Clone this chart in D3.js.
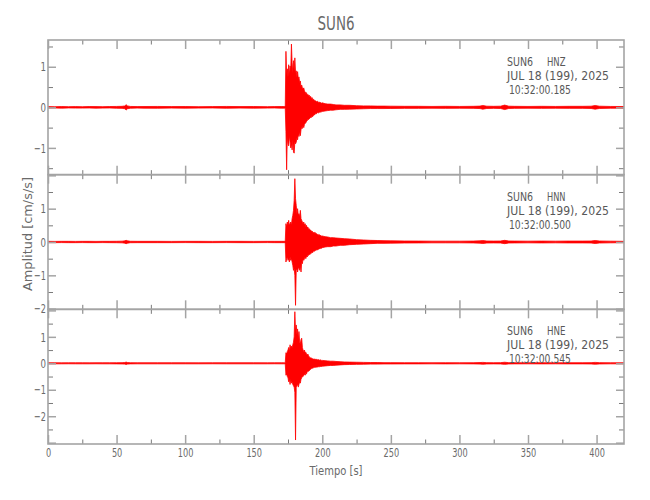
<!DOCTYPE html>
<html><head><meta charset="utf-8">
<script src="https://cdn.jsdelivr.net/npm/d3@7"></script>
<style>
body{margin:0;background:#fff;}
text{font-family:"DejaVu Sans Condensed","Liberation Sans Narrow","Liberation Sans",sans-serif;}
</style></head>
<body><svg id="c" width="650" height="500"></svg>
<script>
// ---- data ----
const title = "SUN6";
const channels = ["HNZ", "HNN", "HNE"];
const startTimes = ["10:32:00.185", "10:32:00.500", "10:32:00.545"];
const dateLabel = "JUL 18 (199), 2025";
const xTicks = [0, 50, 100, 150, 200, 250, 300, 350, 400];
const yDomains = [[-1.66, 1.66], [-2.02, 2.02], [-3.05, 2.04]];
const yTickLabels = [[-1, 0, 1], [-2, -1, 0, 1], [-2, -1, 0, 1]];

const times = [0,5,10,15,20,25,30,35,40,45,50,54,56,57,58,60,65,70,80,90,100,110,120,130,140,150,160,165,170,172,
 172.5,173,173.5,174,174.5,175,175.5,176,176.5,177,177.5,178,178.5,179,179.5,180,180.5,181,181.5,182,182.5,183,183.5,184,184.5,185,185.5,186,186.5,187,187.5,188,188.5,189,189.5,190,190.5,191,191.5,192,192.5,193,193.5,194,194.5,195,195.5,196,196.5,197,197.5,198,198.5,199,199.5,200,
 202,204,206,208,210,213,216,220,225,230,235,240,245,
 250,260,270,280,290,300,310,315,317,320,325,330,333,336,340,350,360,370,380,390,396,399,402,410,420];

const hnzHi = [0.018,0.015,0.02,0.016,0.018,0.015,0.02,0.018,0.016,0.02,0.022,0.025,0.035,0.065,0.035,0.022,0.018,0.02,0.022,0.018,0.02,0.016,0.018,0.022,0.018,0.02,0.016,0.018,0.02,0.02,
 0.02,0.03,1.38,0.8,0.95,0.75,1.05,0.8,1.02,0.9,1.56,1.1,0.85,1.15,0.9,1.22,0.85,0.9,0.75,0.88,0.7,0.75,0.6,0.65,0.5,0.55,0.48,0.45,0.48,0.4,0.38,0.35,0.36,0.3,0.32,0.28,0.3,0.25,0.27,0.22,0.24,0.2,0.2,0.18,0.17,0.16,0.15,0.14,0.15,0.13,0.12,0.13,0.11,0.12,0.1,0.11,
 0.09,0.08,0.08,0.07,0.06,0.06,0.05,0.05,0.04,0.035,0.035,0.03,0.03,
 0.028,0.025,0.025,0.022,0.025,0.022,0.025,0.03,0.045,0.028,0.025,0.028,0.055,0.028,0.025,0.022,0.025,0.022,0.025,0.025,0.028,0.045,0.028,0.022,0.02];
const hnzLo = [-0.018,-0.016,-0.02,-0.015,-0.018,-0.018,-0.016,-0.02,-0.018,-0.016,-0.022,-0.025,-0.035,-0.065,-0.035,-0.022,-0.018,-0.02,-0.022,-0.018,-0.02,-0.018,-0.016,-0.022,-0.018,-0.02,-0.018,-0.016,-0.02,-0.02,
 -0.02,-0.03,-0.6,-1.54,-0.7,-0.9,-0.95,-0.7,-0.85,-1.0,-0.9,-1.05,-0.8,-1.1,-1.13,-0.85,-0.9,-0.86,-0.75,-0.8,-0.65,-0.72,-0.6,-0.7,-0.55,-0.5,-0.52,-0.45,-0.5,-0.42,-0.4,-0.38,-0.35,-0.33,-0.3,-0.3,-0.28,-0.27,-0.25,-0.25,-0.22,-0.23,-0.2,-0.19,-0.18,-0.16,-0.16,-0.15,-0.13,-0.14,-0.13,-0.12,-0.12,-0.11,-0.11,-0.1,
 -0.09,-0.08,-0.07,-0.07,-0.06,-0.05,-0.05,-0.045,-0.04,-0.035,-0.03,-0.03,-0.03,
 -0.028,-0.025,-0.025,-0.022,-0.025,-0.022,-0.025,-0.03,-0.045,-0.028,-0.025,-0.028,-0.055,-0.028,-0.025,-0.022,-0.025,-0.022,-0.025,-0.025,-0.028,-0.045,-0.028,-0.022,-0.02];

const hnnHi = [0.02,0.018,0.02,0.02,0.018,0.02,0.02,0.018,0.02,0.02,0.022,0.025,0.035,0.05,0.035,0.022,0.02,0.02,0.02,0.018,0.02,0.02,0.018,0.02,0.02,0.018,0.02,0.02,0.02,0.02,
 0.02,0.03,0.55,0.45,0.6,0.5,0.65,0.5,0.55,0.6,0.5,0.7,0.8,0.95,1.25,1.9,1.3,1.1,0.85,1.0,0.8,0.85,0.75,0.95,0.7,0.65,0.6,0.55,0.6,0.5,0.55,0.45,0.5,0.42,0.45,0.38,0.4,0.35,0.36,0.32,0.33,0.3,0.28,0.3,0.26,0.28,0.24,0.25,0.22,0.23,0.2,0.22,0.19,0.2,0.17,0.18,
 0.16,0.15,0.13,0.13,0.12,0.11,0.1,0.09,0.07,0.06,0.05,0.045,0.04,
 0.035,0.03,0.028,0.025,0.025,0.025,0.028,0.035,0.045,0.03,0.028,0.03,0.05,0.03,0.028,0.025,0.028,0.025,0.028,0.028,0.03,0.045,0.03,0.025,0.02];
const hnnLo = [-0.02,-0.02,-0.018,-0.02,-0.02,-0.018,-0.02,-0.02,-0.018,-0.02,-0.022,-0.025,-0.035,-0.05,-0.035,-0.022,-0.02,-0.02,-0.02,-0.02,-0.018,-0.02,-0.02,-0.018,-0.02,-0.02,-0.018,-0.02,-0.02,-0.02,
 -0.02,-0.03,-0.6,-0.5,-0.45,-0.55,-0.5,-0.6,-0.45,-0.55,-0.5,-0.6,-0.7,-0.85,-0.8,-1.0,-1.9,-0.85,-0.8,-0.9,-0.75,-0.8,-0.85,-0.7,-0.9,-0.6,-0.65,-0.5,-0.55,-0.5,-0.45,-0.5,-0.42,-0.45,-0.4,-0.4,-0.36,-0.38,-0.33,-0.34,-0.3,-0.32,-0.28,-0.26,-0.28,-0.25,-0.25,-0.23,-0.24,-0.21,-0.22,-0.2,-0.2,-0.18,-0.19,-0.17,
 -0.15,-0.14,-0.14,-0.12,-0.12,-0.1,-0.1,-0.08,-0.07,-0.06,-0.05,-0.04,-0.04,
 -0.035,-0.03,-0.028,-0.025,-0.025,-0.025,-0.028,-0.035,-0.045,-0.03,-0.028,-0.03,-0.05,-0.03,-0.028,-0.025,-0.028,-0.025,-0.028,-0.028,-0.03,-0.045,-0.03,-0.025,-0.02];

const hneHi = [0.02,0.02,0.018,0.02,0.02,0.02,0.018,0.02,0.02,0.02,0.022,0.025,0.03,0.045,0.03,0.022,0.02,0.02,0.02,0.02,0.02,0.018,0.02,0.02,0.02,0.02,0.018,0.02,0.02,0.02,
 0.02,0.03,0.4,0.35,0.45,0.5,0.6,0.45,0.7,0.55,0.65,0.6,0.7,0.8,1.0,1.95,1.2,1.45,1.1,1.3,0.9,1.2,0.8,0.75,0.9,0.95,0.6,0.5,0.45,0.5,0.4,0.42,0.35,0.3,0.35,0.28,0.25,0.22,0.2,0.2,0.18,0.17,0.16,0.15,0.16,0.15,0.14,0.15,0.13,0.14,0.13,0.12,0.13,0.12,0.11,0.11,
 0.1,0.09,0.08,0.08,0.07,0.06,0.05,0.045,0.04,0.035,0.03,0.03,0.025,
 0.025,0.022,0.022,0.02,0.022,0.02,0.022,0.028,0.035,0.025,0.022,0.025,0.04,0.025,0.022,0.02,0.022,0.02,0.022,0.022,0.025,0.035,0.025,0.02,0.02];
const hneLo = [-0.02,-0.02,-0.02,-0.018,-0.02,-0.02,-0.02,-0.018,-0.02,-0.02,-0.022,-0.025,-0.03,-0.045,-0.03,-0.022,-0.02,-0.02,-0.02,-0.02,-0.02,-0.02,-0.018,-0.02,-0.02,-0.02,-0.02,-0.018,-0.02,-0.02,
 -0.02,-0.03,-0.45,-0.4,-0.5,-0.55,-0.7,-0.6,-0.8,-0.6,-0.75,-0.7,-0.8,-0.85,-0.9,-1.1,-2.9,-0.9,-0.85,-0.8,-0.9,-0.8,-0.7,-0.75,-0.6,-0.55,-0.5,-0.5,-0.45,-0.4,-0.45,-0.38,-0.4,-0.32,-0.3,-0.3,-0.28,-0.25,-0.22,-0.2,-0.2,-0.18,-0.17,-0.16,-0.15,-0.15,-0.15,-0.14,-0.14,-0.13,-0.13,-0.13,-0.12,-0.12,-0.12,-0.11,
 -0.1,-0.09,-0.08,-0.08,-0.07,-0.06,-0.05,-0.045,-0.04,-0.035,-0.03,-0.03,-0.025,
 -0.025,-0.022,-0.022,-0.02,-0.022,-0.02,-0.022,-0.028,-0.035,-0.025,-0.022,-0.025,-0.04,-0.025,-0.022,-0.02,-0.022,-0.02,-0.022,-0.022,-0.025,-0.035,-0.025,-0.02,-0.02];

const series = [[hnzHi, hnzLo], [hnnHi, hnnLo], [hneHi, hneLo]];

// ---- layout ----
const L = 48, R = 624, T = 40, B = 444;
const ph = (B - T) / 3;
const svg = d3.select("#c");
const frameCol = "#a4a4a4", textCol = "#6a6a6a", infoCol = "#585858";
const x = d3.scaleLinear().domain([0, 420]).range([L, R]);
const fitText = (sel, perChar) => sel.each(function () {
  const n = this.textContent.length;
  if (n) d3.select(this).attr("textLength", n * perChar).attr("lengthAdjust", "spacingAndGlyphs");
});

svg.append("text").attr("x", (L + R) / 2).attr("y", 30).attr("text-anchor", "middle")
  .attr("font-size", 19).attr("fill", textCol).attr("textLength", 37).attr("lengthAdjust", "spacingAndGlyphs").text(title);

const defs = svg.append("defs");

series.forEach(([hi, lo], i) => {
  const top = T + i * ph, bot = top + ph;
  const y = d3.scaleLinear().domain(yDomains[i]).range([bot, top]);
  const g = svg.append("g");
  defs.append("clipPath").attr("id", "cp" + i).append("rect")
    .attr("x", L).attr("y", top).attr("width", R - L).attr("height", ph);

  const area = d3.area().x((d, k) => x(times[k])).y0((d, k) => y(lo[k])).y1((d, k) => y(hi[k]));
  g.append("path").datum(times).attr("clip-path", "url(#cp" + i + ")")
    .attr("d", area).attr("fill", "#ff0000").attr("stroke", "#ff0000").attr("stroke-width", 0.8)
    .attr("stroke-linejoin", "miter");

  const [d0, d1] = yDomains[i];
  const minorY = d3.range(Math.ceil(d0 * 2) / 2, d1 + 1e-9, 0.5).filter(v => Math.abs(v - Math.round(v)) > 0.01);
  const majorY = d3.range(Math.ceil(d0), d1 + 1e-9, 1);
  const minorX = d3.range(25, 420, 50);

  const style = (sel, col, w) => { sel.select(".domain").remove(); sel.selectAll("line").attr("stroke", col).attr("stroke-width", w); };

  style(g.append("g").attr("transform", `translate(${L},0)`).call(d3.axisLeft(y).tickValues(minorY).tickSize(-5).tickFormat("")), "#7a7a7a", 1);
  style(g.append("g").attr("transform", `translate(${R},0)`).call(d3.axisRight(y).tickValues(minorY).tickSize(-5).tickFormat("")), "#7a7a7a", 1);
  style(g.append("g").attr("transform", `translate(${R},0)`).call(d3.axisRight(y).tickValues(majorY).tickSize(-8).tickFormat("")), frameCol, 1.5);
  const la = g.append("g").attr("transform", `translate(${L},0)`)
    .call(d3.axisLeft(y).tickValues(majorY).tickSize(-8).tickFormat(v => yTickLabels[i].includes(v) ? (v < 0 ? "\u2212" + (-v) : String(v)) : ""));
  style(la, frameCol, 1.5);
  la.selectAll("text").attr("x", -2).attr("font-size", 13).attr("fill", textCol).style("font-family", null)
    .each(function () { const s = this.textContent; if (s) d3.select(this).attr("textLength", s.length === 1 ? 5.5 : 12).attr("lengthAdjust", "spacingAndGlyphs"); });

  style(g.append("g").attr("transform", `translate(0,${top})`).call(d3.axisTop(x).tickValues(minorX).tickSize(-4.5).tickFormat("")), "#7a7a7a", 1);
  style(g.append("g").attr("transform", `translate(0,${top})`).call(d3.axisTop(x).tickValues(xTicks).tickSize(-9).tickFormat("")), frameCol, 1.5);
  style(g.append("g").attr("transform", `translate(0,${bot})`).call(d3.axisBottom(x).tickValues(minorX).tickSize(-4.5).tickFormat("")), "#7a7a7a", 1);
  const ba = g.append("g").attr("transform", `translate(0,${bot})`)
    .call(d3.axisBottom(x).tickValues(xTicks).tickSize(-9).tickFormat(i === 2 ? d3.format("d") : ""));
  style(ba, frameCol, 1.5);
  ba.selectAll("text").attr("y", 4).attr("font-size", 13).attr("fill", textCol).style("font-family", null).call(fitText, 5.2);

  g.append("rect").attr("x", L).attr("y", top).attr("width", R - L).attr("height", ph)
    .attr("fill", "none").attr("stroke", frameCol).attr("stroke-width", 1.6);

  const info = g.append("g").attr("fill", infoCol).attr("font-size", 13);
  info.append("text").attr("x", 507).attr("y", top + 26).attr("textLength", 26).attr("lengthAdjust", "spacingAndGlyphs").text(title);
  info.append("text").attr("x", 547).attr("y", top + 26).attr("textLength", 18.5).attr("lengthAdjust", "spacingAndGlyphs").text(channels[i]);
  info.append("text").attr("x", 507).attr("y", top + 40).attr("textLength", 102).attr("lengthAdjust", "spacingAndGlyphs").text(dateLabel);
  info.append("text").attr("x", 509).attr("y", top + 54).attr("textLength", 62).attr("lengthAdjust", "spacingAndGlyphs").text(startTimes[i]);
});

svg.append("text").attr("x", (L + R) / 2).attr("y", 475).attr("text-anchor", "middle")
  .attr("font-size", 13).attr("fill", textCol).attr("textLength", 53).attr("lengthAdjust", "spacingAndGlyphs").text("Tiempo [s]");
svg.append("text").attr("transform", `translate(32,234) rotate(-90)`).attr("text-anchor", "middle")
  .attr("font-size", 13).attr("fill", textCol).attr("textLength", 114).attr("lengthAdjust", "spacingAndGlyphs").text("Amplitud [cm/s/s]");
</script></body></html>
